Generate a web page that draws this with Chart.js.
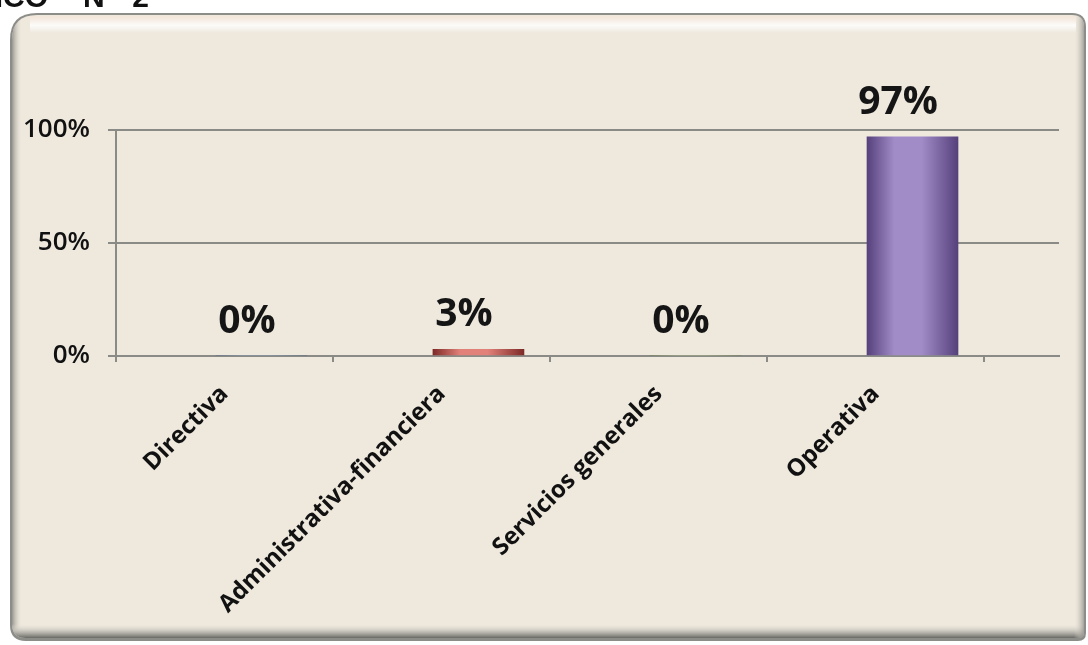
<!DOCTYPE html>
<html><head><meta charset="utf-8">
<script src="https://cdn.jsdelivr.net/npm/chart.js@4.4.1/dist/chart.umd.min.js"></script>
<style>html,body{margin:0;padding:0;background:#fff;overflow:hidden}#wrap{width:1088px;height:645px;position:relative}canvas{display:block}</style>
</head><body><div id="wrap"><canvas id="c" width="1088" height="645"></canvas></div>
<script>
// ---- data ----
const categories = ['Directiva', 'Administrativa-financiera', 'Servicios generales', 'Operativa'];
const values = [0, 3, 0, 97];
const valueLabels = values.map(v => v + '%');
const yTicks = [0, 50, 100];
const yTickLabels = ['0%', '50%', '100%'];

// ---- style / layout constants ----
const barShades = [ // [edge, light]
  ['#2f5688', '#7fa6d8'],
  ['#7e2a27', '#e2817a'],
  ['#5f7a2e', '#b9d685'],
  ['#56417d', '#a28cc8']
];
const BAR_SHIFT = 0.17;   // bars sit slightly right of the category centre in the reference
const X_MAX = 4.345;      // axis line runs past the last category
const GRID = '#8a8a86';

function barFill(c) {
  const chart = c.chart;
  const i = c.dataIndex;
  if (i === undefined || !chart.scales || !chart.scales.x || !c.raw) return barShades[0][0];
  const cx = chart.scales.x.getPixelForValue(c.raw.x);
  const [edge, light] = barShades[i];
  if (!isFinite(cx)) return edge;
  const half = 45.5;
  const g = chart.ctx.createLinearGradient(cx - half, 0, cx + half, 0);
  g.addColorStop(0, edge);
  g.addColorStop(0.3, light);
  g.addColorStop(0.6, light);
  g.addColorStop(1, edge);
  return g;
}

function rrect(ctx, x, y, w, h, r) {
  ctx.beginPath();
  ctx.moveTo(x + r.tl, y);
  ctx.lineTo(x + w - r.tr, y);
  ctx.quadraticCurveTo(x + w, y, x + w, y + r.tr);
  ctx.lineTo(x + w, y + h - r.br);
  ctx.quadraticCurveTo(x + w, y + h, x + w - r.br, y + h);
  ctx.lineTo(x + r.bl, y + h);
  ctx.quadraticCurveTo(x, y + h, x, y + h - r.bl);
  ctx.lineTo(x, y + r.tl);
  ctx.quadraticCurveTo(x, y, x + r.tl, y);
  ctx.closePath();
}

const bgPlugin = {
  id: 'panel',
  beforeDraw(chart) {
    const ctx = chart.ctx;
    ctx.save();
    ctx.fillStyle = '#ffffff';
    ctx.fillRect(0, 0, chart.width, chart.height);
    // caption cut by the top edge
    ctx.fillStyle = '#111';
    ctx.font = 'bold 30px "Liberation Sans"';
    ctx.textBaseline = 'alphabetic';
    ctx.textAlign = 'right';
    ctx.fillText('GRÁFICO', 48, 7);
    ctx.textAlign = 'left';
    ctx.fillText('Nº  2', 83, 7);
    // outer frame
    rrect(ctx, 10, 13, 1076, 628, {tl: 27, tr: 14, br: 8, bl: 16});
    ctx.fillStyle = '#8c8c88';
    ctx.fill();
    rrect(ctx, 12, 15, 1072, 623, {tl: 25, tr: 12, br: 6, bl: 14});
    ctx.fillStyle = '#eee8dd';
    ctx.fill();
    ctx.save();
    ctx.clip();
    let g = ctx.createLinearGradient(12, 0, 22, 0);
    g.addColorStop(0, 'rgba(140,140,135,0.9)');
    g.addColorStop(1, 'rgba(236,230,219,0)');
    ctx.fillStyle = g; ctx.fillRect(12, 15, 10, 623);
    g = ctx.createLinearGradient(0, 624, 0, 638);
    g.addColorStop(0, 'rgba(236,230,219,0)');
    g.addColorStop(0.5, 'rgba(190,188,180,0.8)');
    g.addColorStop(1, 'rgba(105,105,100,1)');
    ctx.fillStyle = g; ctx.fillRect(12, 624, 1072, 14);
    g = ctx.createLinearGradient(1074, 0, 1084, 0);
    g.addColorStop(0, 'rgba(236,230,219,0)');
    g.addColorStop(1, 'rgba(150,150,145,0.85)');
    ctx.fillStyle = g; ctx.fillRect(1074, 15, 10, 623);
    g = ctx.createLinearGradient(0, 16, 0, 33);
    g.addColorStop(0, 'rgba(245,228,215,0.6)');
    g.addColorStop(0.55, 'rgba(255,255,255,0.85)');
    g.addColorStop(1, 'rgba(255,255,255,0)');
    ctx.fillStyle = g; ctx.fillRect(30, 16, 1046, 17);
    ctx.restore();
    ctx.restore();
  }
};

const labelPlugin = {
  id: 'vals',
  afterDatasetsDraw(chart) {
    const ctx = chart.ctx;
    const meta = chart.getDatasetMeta(0);
    ctx.save();
    ctx.font = 'bold 39px "Open Sans"';
    ctx.fillStyle = '#151515';
    ctx.textAlign = 'center';
    ctx.textBaseline = 'alphabetic';
    meta.data.forEach((el, i) => ctx.fillText(valueLabels[i], el.x - 14.5, el.y - 23));
    ctx.restore();
  }
};

new Chart(document.getElementById('c'), {
  type: 'bar',
  data: {
    datasets: [{
      data: values.map((v, i) => ({x: i + 0.5 + BAR_SHIFT, y: v})),
      backgroundColor: barFill,
      borderWidth: 0,
      barThickness: 91,
      xAxisID: 'x',
      yAxisID: 'y'
    }]
  },
  options: {
    responsive: false,
    animation: false,
    devicePixelRatio: 1,
    layout: {padding: {left: 0, top: 130, right: 29, bottom: 0}},
    plugins: {legend: {display: false}, tooltip: {enabled: false}},
    scales: {
      x: {
        type: 'linear', position: 'bottom', min: 0, max: X_MAX, weight: 0, offset: false,
        afterBuildTicks: s => { s.ticks = [0].concat(categories.map((c, i) => i + 1)).map(v => ({value: v})); },
        afterFit: s => { s.height = 6; },
        grid: {offset: false, drawOnChartArea: false, drawTicks: true, tickLength: 6, color: GRID, lineWidth: 2},
        border: {display: true, color: GRID, width: 2},
        ticks: {display: false}
      },
      xl: {
        type: 'linear', position: 'bottom', min: 0, max: X_MAX, weight: 1, offset: false,
        afterBuildTicks: s => { s.ticks = categories.map((c, i) => ({value: i + 0.5})); },
        afterFit: s => { s.height = 283; },
        grid: {display: false, offset: false},
        border: {display: false},
        ticks: {
          autoSkip: false, minRotation: 45, maxRotation: 45, padding: 10, color: '#111',
          font: {family: 'Open Sans', size: 24, weight: 'bold'},
          callback: (v, i) => categories[i]
        }
      },
      y: {
        min: 0, max: 100,
        afterBuildTicks: s => { s.ticks = yTicks.map(v => ({value: v})); },
        afterFit: s => { s.width = 116; },
        grid: {color: GRID, lineWidth: 2, tickLength: 8, drawTicks: true},
        border: {color: GRID, width: 2},
        ticks: {
          padding: 18, color: '#111',
          font: {family: 'Open Sans', size: 26, weight: '600'},
          callback: (v, i) => yTickLabels[i]
        }
      }
    }
  },
  plugins: [bgPlugin, labelPlugin]
});
</script>
</body></html>
